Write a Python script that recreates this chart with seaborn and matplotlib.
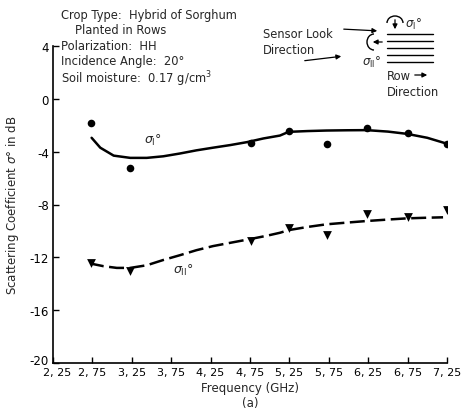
import numpy as np
import pandas as pd
import matplotlib
matplotlib.use("Agg")
import matplotlib.pyplot as plt
import matplotlib.transforms as mtransforms
import seaborn as sns

# ---- data ----
freq_pts = [2.73, 3.23, 4.76, 5.24, 5.73, 6.24, 6.75, 7.25]
sigma_I_pts = [-1.8, -5.2, -3.35, -2.4, -3.45, -2.2, -2.6, -3.4]
sigma_II_pts = [-12.4, -13.0, -10.8, -9.8, -10.3, -8.75, -8.95, -8.4]

curve_I_x = [2.74, 2.85, 3.02, 3.23, 3.44, 3.65, 3.86, 4.07, 4.28, 4.5, 4.71,
             4.92, 5.13, 5.24, 5.48, 5.72, 5.98, 6.23, 6.5, 6.74, 7.0, 7.25]
curve_I_y = [-2.95, -3.7, -4.3, -4.47, -4.47, -4.35, -4.14, -3.9, -3.7, -3.5, -3.28,
             -3.0, -2.78, -2.5, -2.44, -2.4, -2.38, -2.37, -2.48, -2.65, -2.95, -3.4]

curve_II_x = [2.72, 2.75, 2.89, 3.06, 3.23, 3.44, 3.65, 3.86, 4.07, 4.28, 4.5,
              4.75, 4.96, 5.13, 5.24, 5.48, 5.72, 5.98, 6.23, 6.5, 6.74, 7.0, 7.2]
curve_II_y = [-12.3, -12.5, -12.67, -12.8, -12.8, -12.6, -12.2, -11.84, -11.46, -11.15, -10.9,
              -10.62, -10.37, -10.14, -9.94, -9.7, -9.5, -9.37, -9.25, -9.14, -9.05, -9.0, -8.97]

xticks = [2.25, 2.75, 3.25, 3.75, 4.25, 4.75, 5.25, 5.75, 6.25, 6.75, 7.25]
xtick_labels = ["2, 25", "2, 75", "3, 25", "3, 75", "4, 25", "4, 75",
                "5, 25", "5, 75", "6, 25", "6, 75", "7, 25"]
yticks = [4, 0, -4, -8, -12, -16, -20]
ytick_labels = ["4", "0", "-4", "-8", "-12", "-16", "-20"]

sns.set_theme(style="ticks")
plt.rcParams['font.family'] = ['DejaVu Sans']
plt.rcParams['mathtext.fontset'] = 'dejavusans'

W, H = 462, 414
fig = plt.figure(figsize=(W / 100, H / 100), dpi=100)
ax = fig.add_axes([53 / W, 1 - 364 / H, (447 - 53) / W, (364 - 47) / H])

pts = pd.DataFrame({"f": freq_pts, "I": sigma_I_pts, "II": sigma_II_pts})
cI = pd.DataFrame({"f": curve_I_x, "s": curve_I_y})
cII = pd.DataFrame({"f": curve_II_x, "s": curve_II_y})

sns.lineplot(data=cI, x="f", y="s", ax=ax, color="black", lw=1.8, sort=False)
sns.lineplot(data=cII, x="f", y="s", ax=ax, color="black", lw=1.8, sort=False)
ax.lines[-1].set_dashes([6, 2.2])
sns.scatterplot(data=pts, x="f", y="I", ax=ax, color="black", marker="o", s=30,
                edgecolor="black", linewidth=0)
sns.scatterplot(data=pts, x="f", y="II", ax=ax, color="black", marker="v", s=40,
                edgecolor="black", linewidth=0)

ax.set_xlim(2.25, 7.25)
ax.set_ylim(-20, 4)
ax.set_xticks(xticks)
ax.set_xticklabels(xtick_labels)
ax.set_yticks(yticks)
ax.set_yticklabels(ytick_labels)
ax.tick_params(direction="in", length=4, width=1, labelsize=8.5, colors="black", pad=3)
ax.tick_params(axis="x", labelsize=8)
for s in ["top", "right"]:
    ax.spines[s].set_visible(False)
for s in ["left", "bottom"]:
    ax.spines[s].set_linewidth(1.2)
    ax.spines[s].set_color("black")

# nudge the corner labels apart, as in the reference
ax.get_yticklabels()[-1].set_transform(
    ax.get_yticklabels()[-1].get_transform() + mtransforms.ScaledTranslation(0, 3 / 72, fig.dpi_scale_trans))
ax.get_xticklabels()[0].set_transform(
    ax.get_xticklabels()[0].get_transform() + mtransforms.ScaledTranslation(3 / 72, 0, fig.dpi_scale_trans))

ax.set_xlabel("Frequency (GHz)\n(a)", fontsize=8.5, labelpad=3, linespacing=1.2)
ax.set_ylabel(r"Scattering Coefficient $\sigma°$ in dB", fontsize=8.5, labelpad=6)

ax.text(3.52, -3.1, r"$\sigma_{\mathrm{I}}°$", fontsize=9, ha="center", va="center")
ax.text(3.9, -12.9, r"$\sigma_{\mathrm{II}}°$", fontsize=9, ha="center", va="center")

# ---- header text (figure pixel positions) ----
def fy(py):
    return 1 - py / H

def fx(px):
    return px / W

fs = 8.3
fig.text(fx(61), fy(15), "Crop Type:  Hybrid of Sorghum", fontsize=fs, va="center")
fig.text(fx(75), fy(30), "Planted in Rows", fontsize=fs, va="center")
fig.text(fx(61), fy(46), "Polarization:  HH", fontsize=fs, va="center")
fig.text(fx(61), fy(62), "Incidence Angle:  20°", fontsize=fs, va="center")
fig.text(fx(61), fy(79), r"Soil moisture:  0.17 g/cm$^3$", fontsize=fs, va="center")

fig.text(fx(263), fy(34), "Sensor Look", fontsize=fs, va="center")
fig.text(fx(263), fy(51), "Direction", fontsize=fs, va="center")
fig.text(fx(387), fy(76), "Row", fontsize=fs, va="center")
fig.text(fx(387), fy(92), "Direction", fontsize=fs, va="center")
fig.text(fx(405), fy(24), r"$\sigma_{\mathrm{I}}°$", fontsize=8.5, va="center")
fig.text(fx(362), fy(62), r"$\sigma_{\mathrm{II}}°$", fontsize=8.5, va="center")

tf = fig.transFigure
arrow = dict(arrowstyle="-|>", color="black", lw=0.9, mutation_scale=7)
fig.add_artist(matplotlib.patches.FancyArrowPatch((fx(341), fy(30)), (fx(380), fy(32)),
               transform=tf, **arrow))
fig.add_artist(matplotlib.patches.FancyArrowPatch((fx(302), fy(62)), (fx(344), fy(57)),
               transform=tf, **arrow))
fig.add_artist(matplotlib.patches.FancyArrowPatch((fx(412), fy(76)), (fx(430), fy(76)),
               transform=tf, **arrow))
# rows
for py in [35, 42, 49, 56, 63]:
    fig.add_artist(matplotlib.lines.Line2D([fx(387), fx(433)], [fy(py), fy(py)],
                   transform=tf, color="black", lw=1.0))
# sigma_I arrow (down) with arc
fig.add_artist(matplotlib.patches.FancyArrowPatch((fx(395), fy(18)), (fx(395), fy(33)),
               transform=tf, **arrow))
fig.add_artist(matplotlib.patches.Arc((fx(395), fy(24)), 16 / W, 14 / H, theta1=0, theta2=180,
               transform=tf, color="black", lw=1.0))
# sigma_II arrow (left) with arc
fig.add_artist(matplotlib.patches.FancyArrowPatch((fx(385), fy(43)), (fx(370), fy(43)),
               transform=tf, **arrow))
fig.add_artist(matplotlib.patches.Arc((fx(374), fy(43)), 14 / W, 16 / H, theta1=90, theta2=270,
               transform=tf, color="black", lw=1.0))

fig.savefig("out.png", dpi=100, facecolor="white")
